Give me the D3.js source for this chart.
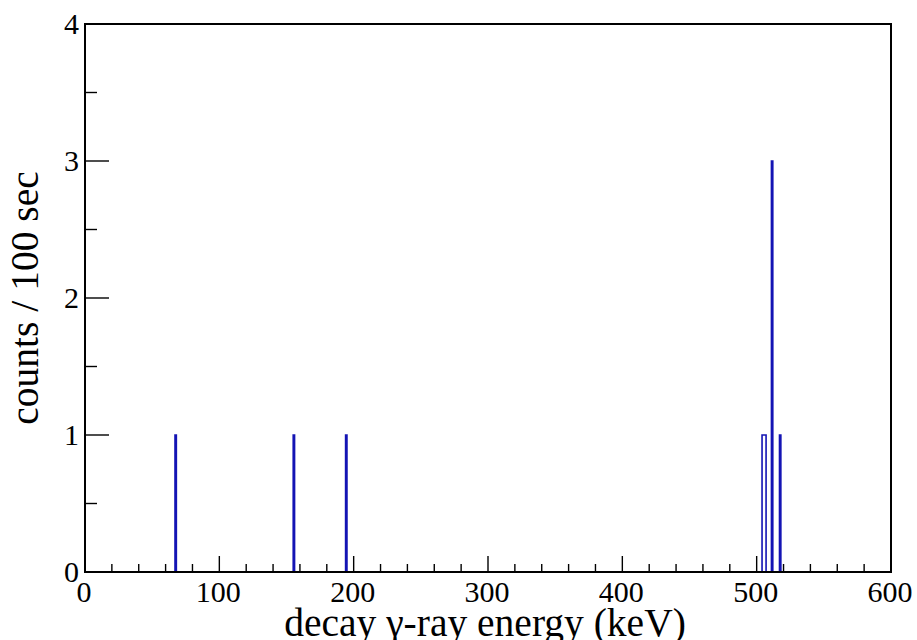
<!DOCTYPE html>
<html>
<head>
<meta charset="utf-8">
<script src="https://cdn.jsdelivr.net/npm/d3@7"></script>
<style>
  html, body { margin: 0; padding: 0; background: #fff; }
  svg { display: block; }
</style>
</head>
<body>
<svg id="chart" width="917" height="640"></svg>
<script>
// Histogram contents: low edge of each filled bin (keV) and its counts
const binEnergies = [67, 155, 194, 504, 505, 506, 511, 517];
const binCounts   = [1, 1, 1, 1, 1, 1, 3, 1];
const binWidth = 1;               // keV per bin
const xDomain = [0, 600];
const yDomain = [0, 4];
const xTickValues = [0, 100, 200, 300, 400, 500, 600];
const yTickValues = [0, 1, 2, 3, 4];
const xTitle = "decay \u03b3-ray energy (keV)";
const yTitle = "counts / 100 sec";

const W = 917, H = 640;
const m = { left: 85, right: 26, top: 24, bottom: 68 };
const pw = W - m.left - m.right, ph = H - m.top - m.bottom;
const serif = "'Liberation Serif', 'Times New Roman', Times, 'DejaVu Serif', serif";

const svg = d3.select("#chart").attr("font-family", serif);
const g = svg.append("g").attr("transform", `translate(${m.left},${m.top})`);

const x = d3.scaleLinear().domain(xDomain).range([0, pw]);
const y = d3.scaleLinear().domain(yDomain).range([ph, 0]);

// Full binned content so the outline can be traced as a step line
const nBins = Math.round((xDomain[1] - xDomain[0]) / binWidth);
const content = new Array(nBins).fill(0);
binEnergies.forEach((e, i) => {
  content[Math.round((e - xDomain[0]) / binWidth)] = binCounts[i];
});

const pts = [[xDomain[0], 0]];
content.forEach((c, i) => {
  const lo = xDomain[0] + i * binWidth;
  pts.push([lo, c], [lo + binWidth, c]);
});
pts.push([xDomain[1], 0]);

const line = d3.line().x(d => x(d[0])).y(d => y(d[1]));
g.append("path")
  .datum(pts)
  .attr("d", line)
  .attr("fill", "none")
  .attr("stroke", "#1414b4")
  .attr("stroke-width", 1.6);

// Inward ticks, ROOT style
const xMajorLen = 16, xMinorLen = 8;
const yMajorLen = 24, yMinorLen = 12;

const xMinor = d3.range(xDomain[0], xDomain[1] + 0.001, 20).filter(v => v % 100 !== 0);
const yMinor = d3.range(yDomain[0], yDomain[1] + 0.001, 0.5).filter(v => v % 1 !== 0);

const ticks = g.append("g").attr("stroke", "#000").attr("stroke-width", 1.4);
xTickValues.forEach(v => ticks.append("line")
  .attr("x1", x(v)).attr("x2", x(v)).attr("y1", ph).attr("y2", ph - xMajorLen));
xMinor.forEach(v => ticks.append("line")
  .attr("x1", x(v)).attr("x2", x(v)).attr("y1", ph).attr("y2", ph - xMinorLen));
yTickValues.forEach(v => ticks.append("line")
  .attr("x1", 0).attr("x2", yMajorLen).attr("y1", y(v)).attr("y2", y(v)));
yMinor.forEach(v => ticks.append("line")
  .attr("x1", 0).attr("x2", yMinorLen).attr("y1", y(v)).attr("y2", y(v)));

// Frame
g.append("rect")
  .attr("x", 0).attr("y", 0).attr("width", pw).attr("height", ph)
  .attr("fill", "none").attr("stroke", "#000").attr("stroke-width", 2);

// Tick labels
g.append("g").selectAll("text").data(xTickValues).join("text")
  .attr("x", d => x(d) - 1)
  .attr("y", ph + 30)
  .attr("text-anchor", "middle")
  .attr("font-size", 30)
  .text(d => d);

g.append("g").selectAll("text").data(yTickValues).join("text")
  .attr("x", -6)
  .attr("y", d => y(d) + 10)
  .attr("text-anchor", "end")
  .attr("font-size", 30)
  .text(d => d);

// Axis titles
svg.append("text")
  .attr("x", m.left + pw / 2 - 3)
  .attr("y", 636)
  .attr("text-anchor", "middle")
  .attr("font-size", 39.5)
  .text(xTitle);

svg.append("text")
  .attr("transform", `translate(38,${m.top + ph / 2}) rotate(-90)`)
  .attr("text-anchor", "middle")
  .attr("font-size", 39.5)
  .text(yTitle);
</script>
</body>
</html>
